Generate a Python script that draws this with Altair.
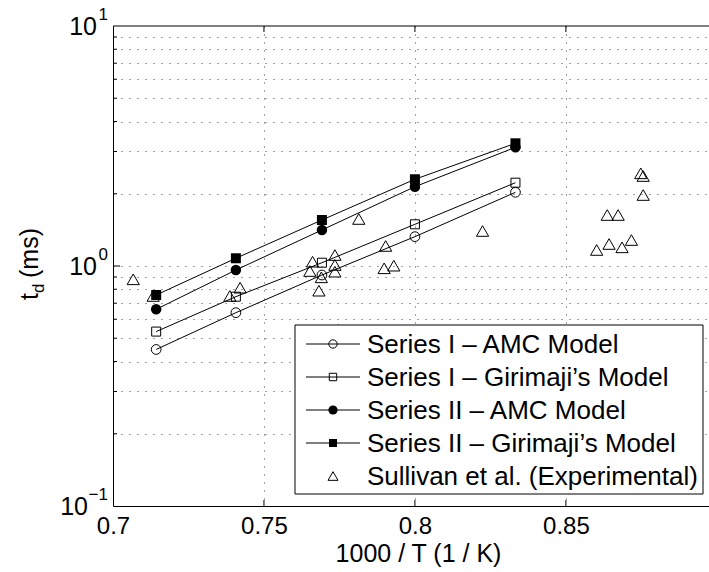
import altair as alt
import pandas as pd

# ---------------- data ----------------
x_model = [0.7143, 0.7407, 0.7692, 0.8, 0.8333]
s1_amc = [0.449, 0.639, 0.917, 1.325, 2.028]
s1_gir = [0.533, 0.745, 1.032, 1.492, 2.224]
s2_amc = [0.660, 0.962, 1.413, 2.140, 3.123]
s2_gir = [0.757, 1.077, 1.555, 2.298, 3.245]

exp_x = [0.7067, 0.7133, 0.7421, 0.7387, 0.7814, 0.7661, 0.7652, 0.7735, 0.7735,
         0.7735, 0.7690, 0.7682, 0.7903, 0.7898, 0.7930, 0.7746, 0.8224, 0.8748,
         0.8756, 0.8756, 0.8637, 0.8673, 0.8602, 0.8643, 0.8686, 0.8717]
exp_y = [0.880, 0.750, 0.812, 0.750, 1.570, 1.042, 0.953, 1.111, 1.010,
         0.947, 0.897, 0.789, 1.212, 0.978, 1.003, 0.541, 1.399, 2.433,
         2.371, 1.976, 1.631, 1.631, 1.166, 1.235, 1.196, 1.283]

series_labels = ["Series I \u2013 AMC Model", "Series I \u2013 Girimaji\u2019s Model",
                 "Series II \u2013 AMC Model", "Series II \u2013 Girimaji\u2019s Model",
                 "Sullivan et al. (Experimental)"]

x_ticks = [0.7, 0.75, 0.8, 0.85]
x_inner_ticks = [0.75, 0.8, 0.85]
y_major = [0.1, 1, 10]
y_exp_labels = ["\u22121", "0", "1"]
y_minor = [0.2, 0.3, 0.4, 0.5, 0.6, 0.7, 0.8, 0.9, 2, 3, 4, 5, 6, 7, 8, 9]
x_title = "1000 / T (1 / K)"

# ---------------- layout ----------------
W, H = 596, 480
FONT = "Liberation Sans"
xs = alt.Scale(domain=[0.7, 0.8974], nice=False, zero=False)
ys = alt.Scale(type="log", domain=[0.1, 10], nice=False)

X_AX = alt.Axis(values=x_ticks, format="~g", grid=True, ticks=False, domain=True,
                domainColor="black", domainWidth=1, labelFont=FONT, labelFontSize=24,
                labelColor="black", labelPadding=8, labelFlush=False, labelOverlap=False,
                title=x_title, titleFont=FONT,
                titleFontSize=25, titleFontWeight="normal", titleColor="black",
                titlePadding=3, titleX=305,
                gridDash=[1, 7], gridColor="#222", gridWidth=1, gridOpacity=0.85)
Y_AX = alt.Axis(values=y_minor + [1], grid=True, ticks=False, labels=False, domain=True,
                domainColor="black", domainWidth=1, title=None,
                gridDash=[1, 7], gridColor="#222", gridWidth=1, gridOpacity=0.85)


def X(field):
    return alt.X(field, scale=xs, axis=X_AX)


def Y(field):
    return alt.Y(field, scale=ys, axis=Y_AX)


names = ["s1a", "s1g", "s2a", "s2g"]
vals = [s1_amc, s1_gir, s2_amc, s2_gir]
df_model = pd.DataFrame({
    "x": x_model * 4,
    "y": sum(vals, []),
    "series": sum([[n] * len(x_model) for n in names], []),
})
df_exp = pd.DataFrame({"x": exp_x, "y": exp_y})

lines = alt.Chart(df_model).mark_line(color="black", strokeWidth=1).encode(
    x=X("x:Q"), y=Y("y:Q"), detail="series:N")


def pts(name, shape, filled, size):
    return alt.Chart(df_model).transform_filter(
        alt.datum.series == name
    ).mark_point(shape=shape, filled=filled, size=size, color="black",
                 strokeWidth=1, opacity=1).encode(x=X("x:Q"), y=Y("y:Q"))


p1 = pts("s1a", "circle", False, 95)
p2 = pts("s1g", "square", False, 81)
p3 = pts("s2a", "circle", True, 110)
p4 = pts("s2g", "square", True, 100)
p5 = alt.Chart(df_exp).mark_point(shape="triangle-up", filled=False, size=150,
                                  color="black", strokeWidth=1, opacity=1).encode(
    x=X("x:Q"), y=Y("y:Q"))

one = pd.DataFrame({"k": [0]})

# frame top line
top_line = alt.Chart(one).mark_rule(color="black", strokeWidth=1).encode(
    x=alt.value(0), x2=alt.value(W), y=alt.value(0))

# inward ticks
df_xt = pd.DataFrame({"v": x_inner_ticks})
xt_bottom = alt.Chart(df_xt).mark_rule(color="black", strokeWidth=1).encode(
    x=X("v:Q"), y=alt.value(H), y2=alt.value(H - 6))
xt_top = alt.Chart(df_xt).mark_rule(color="black", strokeWidth=1).encode(
    x=X("v:Q"), y=alt.value(0), y2=alt.value(6))
df_ymin = pd.DataFrame({"v": y_minor})
yt_minor = alt.Chart(df_ymin).mark_rule(color="black", strokeWidth=1).encode(
    y=Y("v:Q"), x=alt.value(0), x2=alt.value(4))
yt_major = alt.Chart(pd.DataFrame({"v": [1]})).mark_rule(color="black", strokeWidth=1).encode(
    y=Y("v:Q"), x=alt.value(0), x2=alt.value(7))

# y tick labels 10^n
df_yl = pd.DataFrame({"v": y_major, "e": y_exp_labels, "b": ["10"] * 3})
ylab_neg = alt.Chart(df_yl).transform_filter(alt.datum.v < 0.5).mark_text(
    align="right", baseline="middle", font=FONT, fontSize=25, dy=1, color="black").encode(
    y=Y("v:Q"), x=alt.value(-25), text="b:N")
ylab_pos = alt.Chart(df_yl).transform_filter(alt.datum.v > 0.5).mark_text(
    align="right", baseline="middle", font=FONT, fontSize=25, dy=1, color="black").encode(
    y=Y("v:Q"), x=alt.value(-16), text="b:N")
ylab_sup = alt.Chart(df_yl).mark_text(
    align="right", baseline="middle", font=FONT, fontSize=17, dy=-11, color="black").encode(
    y=Y("v:Q"), x=alt.value(-5), text="e:N")

# y title t_d (ms)
yt_df = pd.DataFrame({"t": ["t"], "d": ["d"], "m": ["(ms)"]})
yt1 = alt.Chart(yt_df).mark_text(angle=270, align="left", baseline="alphabetic",
                                 font=FONT, fontSize=25, color="black").encode(
    x=alt.value(-75), y=alt.value(274), text="t:N")
yt2 = alt.Chart(yt_df).mark_text(angle=270, align="left", baseline="alphabetic",
                                 font=FONT, fontSize=17, color="black").encode(
    x=alt.value(-69), y=alt.value(267), text="d:N")
yt3 = alt.Chart(yt_df).mark_text(angle=270, align="left", baseline="alphabetic",
                                 font=FONT, fontSize=25, color="black").encode(
    x=alt.value(-75), y=alt.value(252), text="m:N")

# legend
leg_box = alt.Chart(one).mark_rect(fill="white", stroke="black", strokeWidth=1).encode(
    x=alt.value(182), x2=alt.value(590), y=alt.value(299), y2=alt.value(468))

leg_specs = [("circle", False, 70, True), ("square", False, 55, True),
             ("circle", True, 85, True), ("square", True, 64, True),
             ("triangle-up", False, 100, False)]
legend_layers = [leg_box]
for i, (lab, (shape, filled, size, has_line)) in enumerate(zip(series_labels, leg_specs)):
    yy = 318 + i * 33
    dfl = pd.DataFrame({"label": [lab]})
    if has_line:
        legend_layers.append(alt.Chart(dfl).mark_rule(color="black", strokeWidth=1).encode(
            x=alt.value(193), x2=alt.value(247), y=alt.value(yy)))
    legend_layers.append(alt.Chart(dfl).mark_point(shape=shape, filled=filled, size=size,
                                                   color="black", strokeWidth=1, opacity=1).encode(
        x=alt.value(220), y=alt.value(yy)))
    legend_layers.append(alt.Chart(dfl).mark_text(align="left", baseline="middle", font=FONT,
                                                  fontSize=26, color="black", dy=1).encode(
        x=alt.value(254), y=alt.value(yy), text="label:N"))

chart = alt.layer(
    lines, p1, p2, p3, p4, p5, top_line, xt_bottom, xt_top, yt_minor, yt_major,
    ylab_neg, ylab_pos, ylab_sup, yt1, yt2, yt3, *legend_layers
).properties(
    width=W, height=H,
    autosize=alt.AutoSizeParams(type="none"),
    padding={"left": 113, "top": 26, "right": 0, "bottom": 66},
    background="white",
).configure_view(stroke=None)

chart.save("out.html", embed_options={"renderer": "svg", "actions": False})
